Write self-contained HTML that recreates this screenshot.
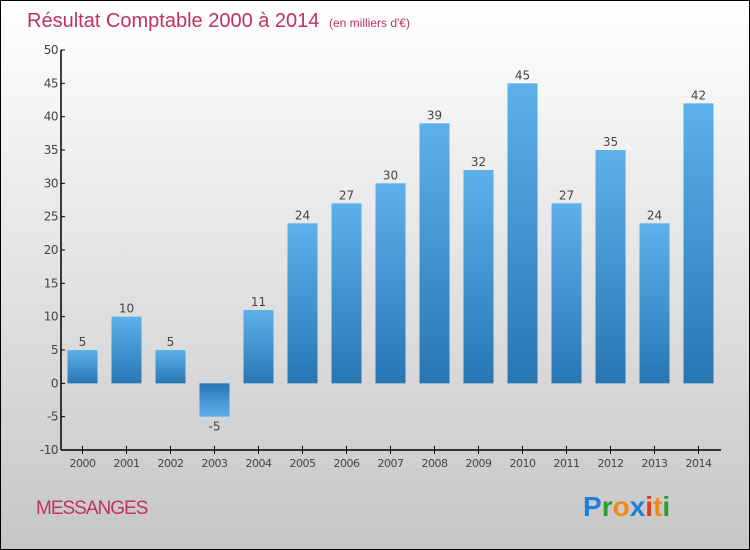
<!DOCTYPE html>
<html><head><meta charset="utf-8"><style>
body{margin:0;padding:0;}
svg{display:block;font-family:"DejaVu Sans","Liberation Sans",sans-serif;}
</style></head><body>
<svg id="chart" width="750" height="550" viewBox="0 0 750 550" xmlns="http://www.w3.org/2000/svg">
<defs>
<linearGradient id="bg" x1="0" y1="0" x2="0" y2="1"><stop offset="0" stop-color="#ffffff"/><stop offset="1" stop-color="#c6c6c6"/></linearGradient>
<linearGradient id="pos" x1="0" y1="0" x2="0" y2="1"><stop offset="0" stop-color="#5db0ea"/><stop offset="1" stop-color="#2877b5"/></linearGradient>
<linearGradient id="neg" x1="0" y1="0" x2="0" y2="1"><stop offset="0" stop-color="#2877b5"/><stop offset="1" stop-color="#5db0ea"/></linearGradient>
</defs>
<rect x="0.5" y="0.5" width="749" height="549" fill="url(#bg)" stroke="#000" stroke-width="1"/>
<text x="27" y="27" font-size="20" fill="#c0325f" font-family="Liberation Sans, sans-serif">Résultat Comptable 2000 à 2014 <tspan font-size="12" dx="4">(en milliers d'€)</tspan></text>
<g id="bars"></g>
<g id="axes"></g>
<text x="36" y="514" font-size="19" fill="#c0325f" font-family="Liberation Sans, sans-serif" letter-spacing="-1">MESSANGES</text>
<g font-family="Liberation Sans, sans-serif" font-size="28" font-weight="bold">
<text x="583" y="516"><tspan fill="#1e7fd8">P</tspan><tspan fill="#2aa02a">r</tspan><tspan fill="#f08a1a">o</tspan><tspan fill="#1e7fd8">x</tspan><tspan fill="#e53a1a">i</tspan><tspan fill="#f08a1a">t</tspan><tspan fill="#2aa02a">i</tspan></text>
</g>
</svg>
<script>
const years=["2000","2001","2002","2003","2004","2005","2006","2007","2008","2009","2010","2011","2012","2013","2014"];
const values=[5,10,5,-5,11,24,27,30,39,32,45,27,35,24,42];
const yTicks=[-10,-5,0,5,10,15,20,25,30,35,40,45,50];
const NS="http://www.w3.org/2000/svg";
const yMin=-10,yMax=50,yTop=50,yBot=450;
function y(v){return yBot-(v-yMin)/(yMax-yMin)*(yBot-yTop);}
function x(i){return 82.5+i*44;}
function mk(t,a,p){const e=document.createElementNS(NS,t);for(const k in a)e.setAttribute(k,a[k]);p.appendChild(e);return e;}
const bars=document.getElementById('bars'),axes=document.getElementById('axes');
values.forEach((v,i)=>{
 const y0=y(0),y1=y(v);
 const r=mk('rect',{x:x(i)-15,y:Math.min(y0,y1),width:30,height:Math.abs(y1-y0),fill:v>=0?'url(#pos)':'url(#neg)'},bars);
 
 
 const t=mk('text',{x:x(i),y:v>=0?y1-4:y1+14,'text-anchor':'middle','font-size':'12',fill:'#444'},bars);
 t.textContent=v;
 
 
 const tk=mk('line',{x1:x(i),x2:x(i),y1:yBot-4,y2:yBot+4,stroke:'#000'},axes);
 
 
 const l=mk('text',{x:x(i),y:yBot+17,'text-anchor':'middle','font-size':'11',fill:'#444','letter-spacing':'-0.5'},axes);
 l.textContent=years[i];
 
 
});
yTicks.forEach(v=>{
 const tk=mk('line',{x1:61,x2:65,y1:y(v),y2:y(v),stroke:'#000'},axes);
 
 
 const l=mk('text',{x:58,y:y(v)+4,'text-anchor':'end','font-size':'12',fill:'#444','letter-spacing':'-0.5'},axes);
 l.textContent=v;
 
 
});
const ya=mk('line',{x1:61,x2:61,y1:yTop,y2:yBot,stroke:'#000','stroke-width':1.5},axes);


const xa=mk('line',{x1:61,x2:721,y1:yBot,y2:yBot,stroke:'#000','stroke-width':1.5},axes);


</script>
</body></html>
